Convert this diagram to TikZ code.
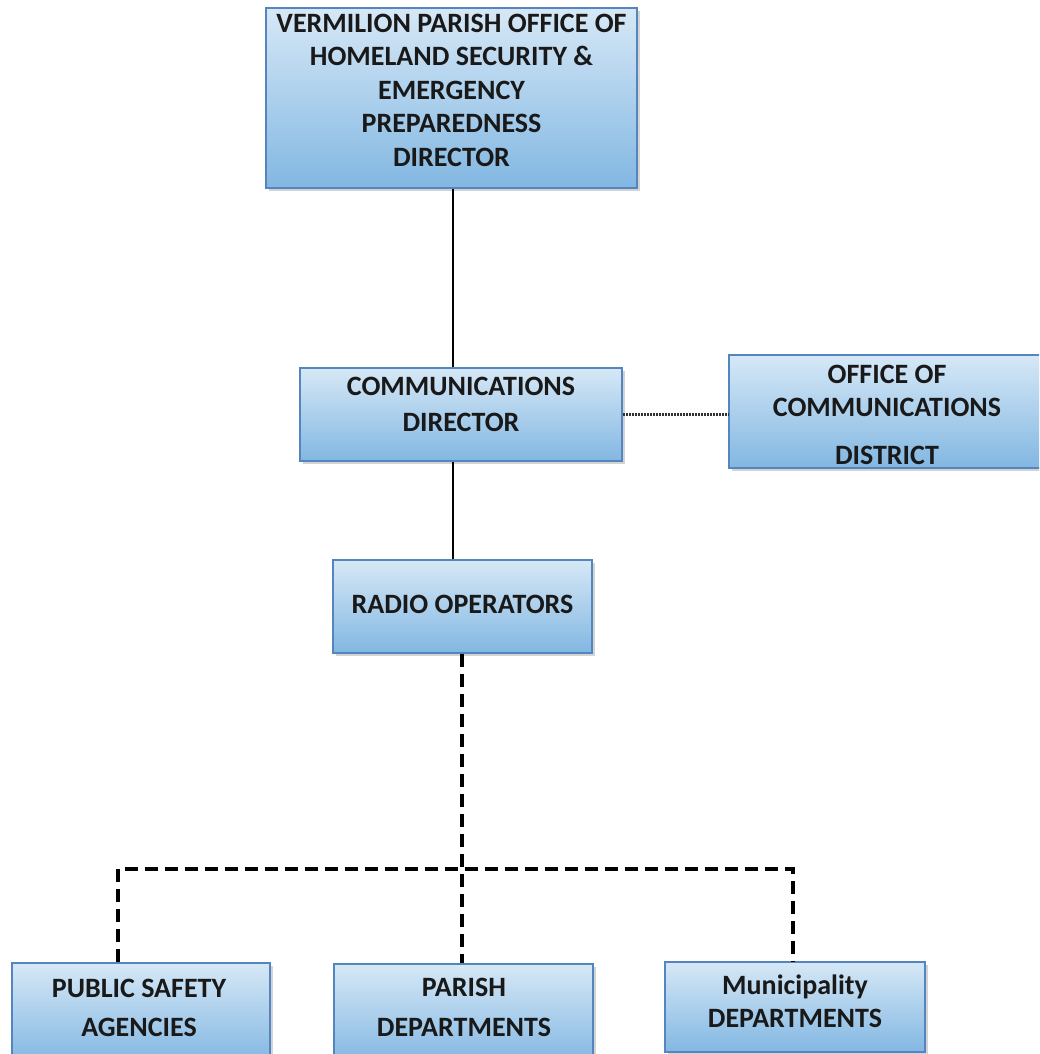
\documentclass[tikz,border=0pt]{standalone}
\usepackage{fontspec}
\setmainfont{Carlito}
\usetikzlibrary{shadows}
\definecolor{boxtop}{HTML}{D6E8F6}
\definecolor{boxbot}{HTML}{82B7E2}
\definecolor{boxline}{HTML}{5485BE}
\tikzset{
  orgbox/.style={draw=boxline, line width=1.5pt, top color=boxtop, bottom color=boxbot,
    drop shadow={opacity=0.35, shadow xshift=3pt, shadow yshift=-3pt}, inner sep=0pt},
  orgtext/.style={align=center, font=\bfseries\fontsize{28}{33.5}\selectfont, text=black!90, inner sep=0pt},
  solidlink/.style={line width=1.4pt},
  dashlink/.style={line width=3.8pt, dash pattern=on 13pt off 7pt},
  dotlink/.style={line width=2.2pt, dash pattern=on 2pt off 1pt, black!80}
}
\begin{document}
\begin{tikzpicture}[x=1pt,y=-1pt]
\useasboundingbox (0,0) rectangle (1039,1054);
\clip (0,0) rectangle (1039,1054);
% boxes
\node[orgbox, minimum width=371pt, minimum height=180pt] (top) at (451.5,98) {};
\node[orgbox, minimum width=322pt, minimum height=93pt] (comm) at (461,414.5) {};
\node[orgbox, minimum width=320pt, minimum height=113pt] (office) at (889,411.5) {};
\node[orgbox, minimum width=259pt, minimum height=93pt] (radio) at (462.5,606.5) {};
\node[orgbox, minimum width=258pt, minimum height=100pt] (psa) at (141,1013) {};
\node[orgbox, minimum width=259pt, minimum height=100pt] (parish) at (463.5,1014) {};
\node[orgbox, minimum width=260pt, minimum height=90pt] (muni) at (795,1007) {};
% texts
\node[orgtext] (topT) at (451.5,90) {VERMILION PARISH OFFICE OF\\HOMELAND SECURITY \&\\EMERGENCY\\PREPAREDNESS\\DIRECTOR};
\node[orgtext, font=\bfseries\fontsize{28}{36}\selectfont] (commT) at (461,404) {COMMUNICATIONS\\DIRECTOR};
\node[orgtext, font=\bfseries\fontsize{28}{33}\selectfont] (officeT) at (887,414.5) {OFFICE OF\\COMMUNICATIONS\\[15pt]DISTRICT};
\node[orgtext] (radioT) at (462.5,604) {RADIO OPERATORS};
\node[orgtext, font=\bfseries\fontsize{28}{39}\selectfont] (psaT) at (139,1007.5) {PUBLIC SAFETY\\AGENCIES};
\node[orgtext, font=\bfseries\fontsize{28}{40}\selectfont] (parishT) at (464,1007) {PARISH\\DEPARTMENTS};
\node[orgtext, font=\bfseries\fontsize{28}{33}\selectfont] (muniT) at (795,1001) {Municipality\\DEPARTMENTS};
% connectors
\coordinate (jl) at (118,869);
\coordinate (jr) at (793,869);
\draw[solidlink] (top.south -| 453,0) -- (comm.north -| 453,0);
\draw[solidlink] (comm.south -| 453,0) -- (radio.north -| 453,0);
\draw[dotlink] (comm.east) -- (office.west |- comm.east);
\draw[dashlink] (radio.south -| 462,0) -- (parish.north -| 462,0);
\draw[dashlink] (jl |- psa.north) -- (jl) -- (jr) -- (jr |- muni.north);
\end{tikzpicture}
\end{document}
